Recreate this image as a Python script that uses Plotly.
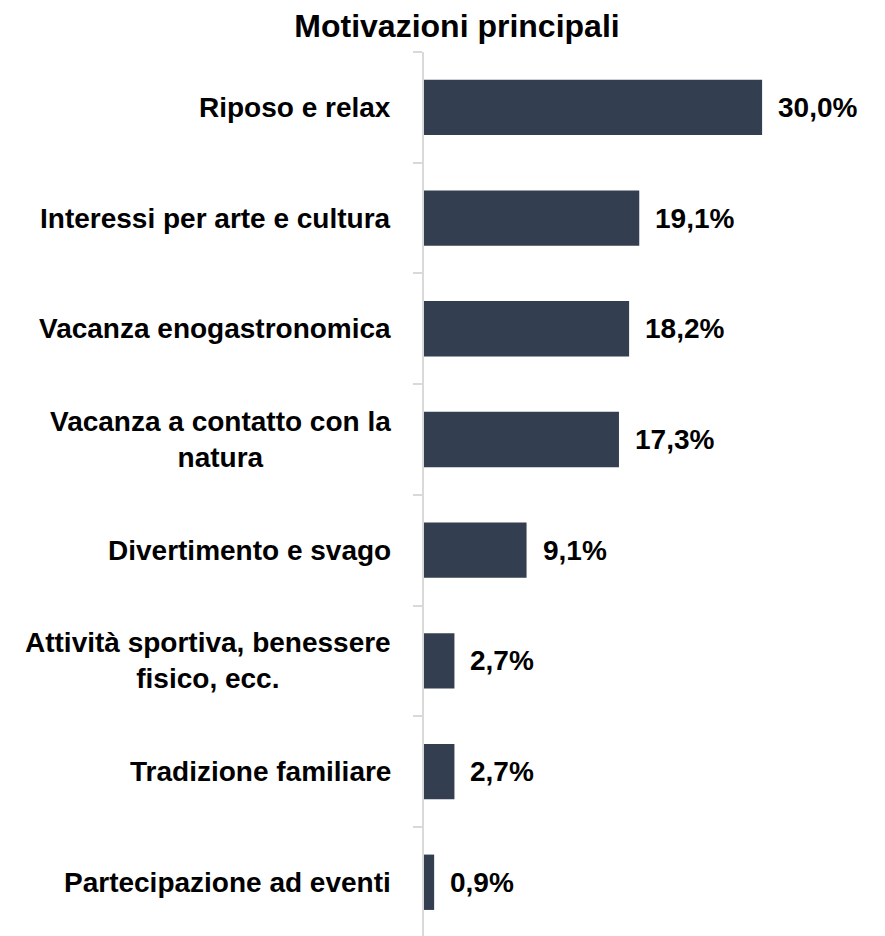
import plotly.graph_objects as go

categories = [
    "Riposo e relax",
    "Interessi per arte e cultura",
    "Vacanza enogastronomica",
    "Vacanza a contatto con la<br>natura",
    "Divertimento e svago",
    "Attività sportiva, benessere<br>fisico, ecc.",
    "Tradizione familiare",
    "Partecipazione ad eventi",
]
values = [30.0, 19.1, 18.2, 17.3, 9.1, 2.7, 2.7, 0.9]
value_labels = [f"{v:.1f}".replace(".", ",") + "%" for v in values]

FONT = "Liberation Sans, Arial, Helvetica, sans-serif"
BAR = "#333F50"
AXIS = "#D9D9D9"

positions = list(range(len(categories)))

fig = go.Figure()
fig.add_trace(go.Bar(
    x=values,
    y=positions,
    orientation="h",
    width=0.5,
    marker=dict(color=BAR, line=dict(width=0)),
    hoverinfo="skip",
))

annotations = []
for i, (cat, v, lab) in enumerate(zip(categories, values, value_labels)):
    annotations.append(dict(
        x=0, xref="paper", y=i, yref="y",
        text=cat, showarrow=False,
        xanchor="right", yanchor="middle", align="center",
        xshift=-31,
        font=dict(family=FONT, size=28, color="#000000", weight="bold"),
    ))
    annotations.append(dict(
        x=v, xref="x", y=i, yref="y",
        text=lab, showarrow=False,
        xanchor="left", yanchor="middle",
        xshift=14,
        font=dict(family=FONT, size=28, color="#000000", weight="bold"),
    ))

fig.update_layout(
    width=885, height=936,
    margin=dict(l=424, r=0, t=52, b=0),
    paper_bgcolor="white", plot_bgcolor="white",
    showlegend=False,
    title=dict(
        text="<b>Motivazioni principali</b>",
        x=457 / 885, xanchor="center",
        y=1 - 26 / 936, yanchor="middle", yref="container",
        font=dict(family=FONT, size=32, color="#000000"),
    ),
    xaxis=dict(range=[0, 461 / 11.27], visible=False, fixedrange=True),
    yaxis=dict(
        range=[-0.5 + 884 / 110.7, -0.5],
        tickmode="array",
        tickvals=[i - 0.5 for i in range(len(categories) + 1)],
        ticks="outside", ticklen=9, tickwidth=2, tickcolor=AXIS,
        showticklabels=False,
        showline=True, linecolor=AXIS, linewidth=2,
        showgrid=False, zeroline=False, fixedrange=True,
    ),
    annotations=annotations,
)

fig.write_html("out.html")
